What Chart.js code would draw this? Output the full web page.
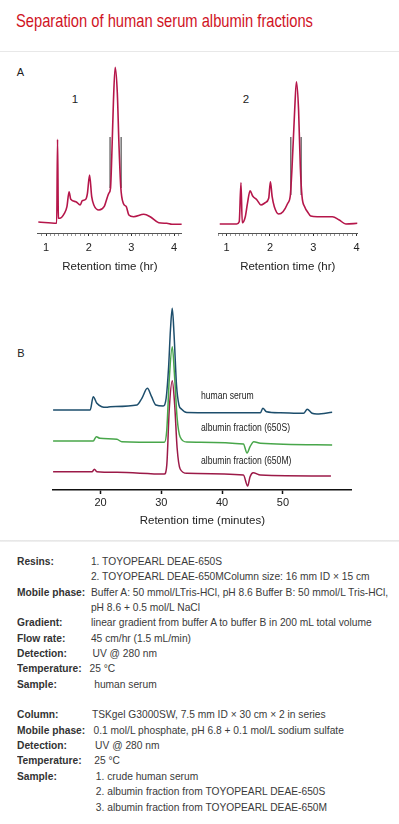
<!DOCTYPE html>
<html>
<head>
<meta charset="utf-8">
<title>Separation of human serum albumin fractions</title>
<script src="https://cdn.jsdelivr.net/npm/chart.js"></script>
<style>
  body { margin: 0; background: #fff; font-family: 'Liberation Sans', Arial, sans-serif; color: #333; }
  #page { position: relative; width: 399px; height: 824px; overflow: hidden; }
  h1 { position: absolute; left: 16px; top: 12.7px; margin: 0; font: normal 17.7px/1 'Liberation Sans', Arial, sans-serif; color: #d0141f; white-space: nowrap; transform: scaleX(0.832); transform-origin: 0 0; }
  .rule { position: absolute; left: 0; width: 399px; }
  .tag { position: absolute; font: normal 11px/1 'Liberation Sans', Arial, sans-serif; color: #222; }
  .trace { position: absolute; left: 200.7px; font: normal 10.5px/1 'Liberation Sans', Arial, sans-serif; color: #222; white-space: nowrap; transform: scaleX(0.82); transform-origin: 0 0; }
  canvas { position: absolute; }
  #info { position: absolute; left: 16.7px; top: 554px; transform: scaleX(0.93); transform-origin: 0 0; font-size: 11px; line-height: 15.35px; color: #3a3a3a; white-space: nowrap; }
  #info .row { height: auto; }
  #info .k { display: inline-block; width: 78px; font-weight: bold; color: #333; vertical-align: top; }
  #info .v { display: inline-block; padding-left: 1.5px; vertical-align: top; }
</style>
</head>
<body>
<div id="page">
  <h1>Separation of human serum albumin fractions</h1>
  <div class="rule" style="top:51px;height:1px;background:#e8e8e8"></div>

  <div class="tag" style="left:16.7px;top:66.7px">A</div>
  <div class="tag" style="left:71.7px;top:94.3px;font-size:11.5px">1</div>
  <div class="tag" style="left:242.7px;top:93.6px;font-size:11.5px">2</div>
  <canvas id="chartA1" width="160" height="230" style="left:30px;top:50px"></canvas>
  <canvas id="chartA2" width="160" height="230" style="left:210px;top:50px"></canvas>

  <div class="tag" style="left:17.3px;top:348px">B</div>
  <canvas id="chartB" width="330" height="240" style="left:40px;top:295px"></canvas>
  <div class="trace" style="top:389.6px">human serum</div>
  <div class="trace" style="top:422.1px">albumin fraction (650S)</div>
  <div class="trace" style="top:455.4px">albumin fraction (650M)</div>

  <div class="rule" style="top:540px;height:2px;background:linear-gradient(#e4e4e4,#f2f2f2)"></div>

  <div id="info">
    <div class="row"><span class="k">Resins:</span><span class="v">1. TOYOPEARL DEAE-650S<br>2. TOYOPEARL DEAE-650MColumn size: 16 mm ID × 15 cm</span></div>
    <div class="row"><span class="k">Mobile phase:</span><span class="v">Buffer A: 50 mmol/LTris-HCl, pH 8.6 Buffer B: 50 mmol/L Tris-HCl,<br>pH 8.6 + 0.5 mol/L NaCl</span></div>
    <div class="row"><span class="k">Gradient:</span><span class="v">linear gradient from buffer A to buffer B in 200 mL total volume</span></div>
    <div class="row"><span class="k">Flow rate:</span><span class="v">45 cm/hr (1.5 mL/min)</span></div>
    <div class="row"><span class="k">Detection:</span><span class="v" style="padding-left:3.2px">UV @ 280 nm</span></div>
    <div class="row"><span class="k">Temperature:</span><span class="v" style="padding-left:0">25 °C</span></div>
    <div class="row"><span class="k">Sample:</span><span class="v" style="padding-left:5px">human serum</span></div>
    <div class="row">&nbsp;</div>
    <div class="row"><span class="k">Column:</span><span class="v" style="padding-left:2.6px">TSKgel G3000SW, 7.5 mm ID × 30 cm × 2 in series</span></div>
    <div class="row"><span class="k">Mobile phase:</span><span class="v" style="padding-left:4.3px">0.1 mol/L phosphate, pH 6.8 + 0.1 mol/L sodium sulfate</span></div>
    <div class="row"><span class="k">Detection:</span><span class="v" style="padding-left:6px">UV @ 280 nm</span></div>
    <div class="row"><span class="k">Temperature:</span><span class="v" style="padding-left:5px">25 °C</span></div>
    <div class="row"><span class="k">Sample:</span><span class="v" style="padding-left:6.8px">1. crude human serum<br>2. albumin fraction from TOYOPEARL DEAE-650S<br>3. albumin fraction from TOYOPEARL DEAE-650M</span></div>
  </div>
</div>

<script>
// A: DEAE ion exchange runs, retention time (hr) vs UV signal
var timeA1 = [0.82, 1.25, 1.27, 1.29, 1.32, 1.43, 1.49, 1.54, 1.58, 1.70, 1.80, 1.85, 1.93, 1.97, 2.02, 2.07, 2.12, 2.24, 2.36, 2.47, 2.51, 2.54, 2.58, 2.62, 2.67, 2.71, 2.75, 2.81, 2.88, 2.94, 3.05, 3.29, 3.44, 3.64, 3.83, 3.95, 4.18];
var signalA1 = [11, 9.7, 93.7, 15, 14.7, 19.7, 26.3, 41.3, 33.7, 31.3, 28, 32.3, 33.7, 39.7, 58, 36.3, 28, 23, 26.3, 39.7, 44.7, 76.3, 133, 165.7, 139.7, 86.3, 46.3, 29.7, 26.3, 18, 16.3, 18.7, 16.3, 10.3, 9.7, 8.7, 8.7];

var timeA2 = [0.84, 1.23, 1.29, 1.33, 1.36, 1.43, 1.48, 1.54, 1.60, 1.70, 1.79, 1.89, 1.97, 2.01, 2.05, 2.10, 2.20, 2.30, 2.41, 2.47, 2.51, 2.57, 2.61, 2.66, 2.70, 2.74, 2.80, 2.88, 2.94, 3.09, 3.44, 3.60, 3.75, 4.02];
var signalA2 = [9, 9, 11.3, 50.3, 10.3, 16.3, 29.7, 42.3, 37, 33, 28, 30.3, 34.7, 51.3, 36.3, 26.3, 19, 21.3, 29.7, 38, 66.3, 123, 151.3, 123, 66.3, 36.3, 26.3, 20.3, 17, 16.3, 16.3, 13, 9, 9.7];

// fraction cut marks (hr)
var cutsA1 = [2.50, 2.76];
var cutsA2 = [2.48, 2.72];
var cutTopA = 96;
var cutBottomA1 = 45;
var cutBottomA2 = 38;

var hourTicks = [1, 2, 3, 4];

// B: size exclusion runs, retention time (minutes) vs UV signal
var timeSerum = [12.1, 18.3, 18.8, 19.4, 20.2, 21.0, 21.6, 26.0, 26.8, 27.7, 28.4, 29.1, 30.3, 30.8, 31.2, 31.5, 31.8, 32.1, 32.5, 32.9, 33.3, 34.2, 38.6, 46.3, 46.7, 47.3, 49.6, 53.4, 54.0, 54.8, 55.6, 58.1];
var signalSerum = [80, 80, 93.3, 86.7, 83.3, 82.7, 83.3, 85, 91.7, 101.7, 93.3, 85, 84, 92, 123, 160, 181.7, 155, 105, 85, 81, 77.5, 77.3, 77.3, 81.7, 78.3, 77.3, 76.7, 80.7, 76.7, 76, 77.7];

var time650S = [12.1, 18.8, 19.3, 19.9, 22.7, 23.5, 30.5, 30.9, 31.3, 31.8, 32.2, 32.6, 33.1, 34.2, 43.5, 44.1, 44.6, 45.2, 46.3, 58.1];
var signal650S = [49, 49, 53.3, 51.7, 50.7, 48.3, 47.7, 60, 110, 143.3, 112, 72, 53, 48, 46, 37, 43.3, 48.3, 46.7, 45];

var time650M = [12.1, 18.6, 19.0, 19.4, 22.7, 30.5, 30.9, 31.3, 31.8, 32.2, 32.6, 33.1, 34.2, 43.5, 44.2, 44.6, 45.1, 46.3, 57.9];
var signal650M = [18.3, 18.3, 20.7, 18.3, 17.7, 16, 25, 80, 109.3, 85, 42, 21, 16.7, 15, 4, 13.3, 17.3, 15, 14];

var minuteTicks = [20, 30, 40, 50];

Chart.defaults.font.family = "'Liberation Sans', Arial, sans-serif";
Chart.defaults.color = '#222';

function zip(xs, ys) {
    return xs.map(function(x, i) { return {x: x, y: ys[i]}; });
}

// vertical cut lines, separated by a null so they don't join up
function cutMarks(cuts, top, bottom) {
    var pts = [];
    cuts.forEach(function(c, i) {
        if (i) pts.push({x: c, y: null});
        pts.push({x: c, y: top}, {x: c, y: bottom});
    });
    return pts;
}

function makePanelA(id, times, signal, cuts, cutBottom, xMin, xMax, pad) {
    // minor tick marks every 0.1 hr
    var minor = [];
    for (var t = 8; t <= 42; t++) minor.push(t / 10);

    new Chart(document.getElementById(id), {
        type: 'line',
        data: {
            datasets: [{
                data: zip(times, signal),
                borderColor: '#b5164a',
                borderWidth: 1.6,
                pointRadius: 0,
                cubicInterpolationMode: 'monotone'
            }, {
                data: cutMarks(cuts, cutTopA, cutBottom),
                borderColor: '#6a6a6a',
                borderWidth: 1.4,
                pointRadius: 0,
                spanGaps: false
            }]
        },
        options: {
            responsive: false,
            animation: false,
            events: [],
            layout: { padding: pad },
            plugins: { legend: { display: false }, tooltip: { enabled: false } },
            scales: {
                x: {
                    type: 'linear',
                    min: xMin,
                    max: xMax,
                    afterBuildTicks: function(axis) {
                        axis.ticks = minor.filter(function(v) { return v >= xMin && v <= xMax; })
                            .map(function(v) { return {value: v}; });
                    },
                    ticks: {
                        autoSkip: false,
                        maxRotation: 0,
                        padding: 5,
                        font: { size: 11 },
                        color: '#222',
                        callback: function(v) { return hourTicks.indexOf(v) >= 0 ? String(v) : ''; }
                    },
                    grid: {
                        drawOnChartArea: false,
                        tickLength: 3,
                        tickWidth: 1,
                        tickColor: function(c) {
                            return c.tick && hourTicks.indexOf(c.tick.value) >= 0 ? '#333' : '#9a9a9a';
                        }
                    },
                    border: { color: '#555', width: 1 },
                    title: {
                        display: true,
                        text: 'Retention time (hr)',
                        font: { size: 11.5 },
                        color: '#222',
                        padding: { top: 0.5, bottom: 2 }
                    }
                },
                y: { display: false, min: 0, max: 175 }
            }
        }
    });
}

makePanelA('chartA1', timeA1, signalA1, cutsA1, cutBottomA1, 0.81, 4.18, { left: 7.9, right: 8.2, top: 8, bottom: 4.5 });
makePanelA('chartA2', timeA2, signalA2, cutsA2, cutBottomA2, 0.8, 4.02, { left: 8, right: 12.5, top: 8, bottom: 4.5 });

// B chart
new Chart(document.getElementById('chartB'), {
    type: 'line',
    data: {
        datasets: [{
            label: 'human serum',
            data: zip(timeSerum, signalSerum),
            borderColor: '#1d4e6c'
        }, {
            label: 'albumin fraction (650S)',
            data: zip(time650S, signal650S),
            borderColor: '#48a64a'
        }, {
            label: 'albumin fraction (650M)',
            data: zip(time650M, signal650M),
            borderColor: '#9c1a48'
        }]
    },
    options: {
        responsive: false,
        animation: false,
        events: [],
        datasets: { line: { borderWidth: 1.5, pointRadius: 0, cubicInterpolationMode: 'monotone' } },
        layout: { padding: { left: 13.1, right: 18.4, top: 10, bottom: 5.1 } },
        plugins: { legend: { display: false }, tooltip: { enabled: false } },
        scales: {
            x: {
                type: 'linear',
                min: 12.2,
                max: 61.3,
                afterBuildTicks: function(axis) {
                    axis.ticks = minuteTicks.map(function(v) { return {value: v}; });
                },
                ticks: { autoSkip: false, maxRotation: 0, padding: 2.7, font: { size: 11 }, color: '#222' },
                grid: { drawOnChartArea: false, tickLength: 4, tickWidth: 1.5, tickColor: '#111' },
                border: { color: '#111', width: 1.6 },
                title: {
                    display: true,
                    text: 'Retention time (minutes)',
                    font: { size: 11.5 },
                    color: '#222',
                    padding: { top: 1.5, bottom: 2 }
                }
            },
            y: { display: false, min: 0, max: 185 }
        }
    }
});
</script>
</body>
</html>
